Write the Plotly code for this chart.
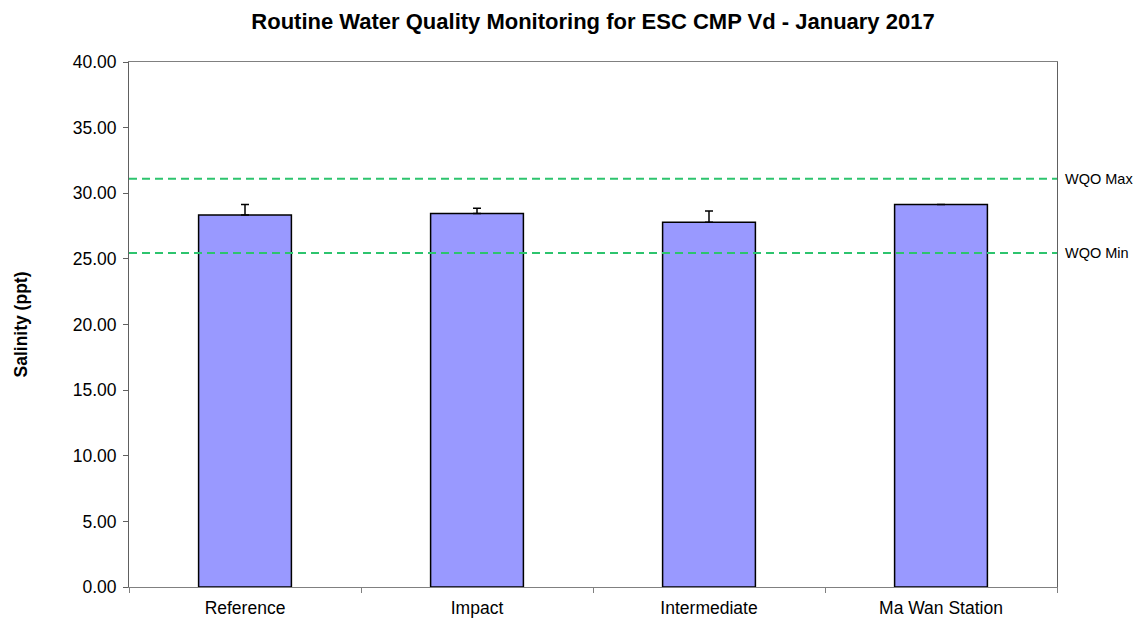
import plotly.graph_objects as go

categories = ["Reference", "Impact", "Intermediate", "Ma Wan Station"]
salinity = [28.35, 28.45, 27.8, 29.15]
error_plus = [0.8, 0.4, 0.85, float("nan")]
wqo_max = 31.1
wqo_min = 25.45
wqo_labels = ["WQO Max", "WQO Min"]

FONT = "Liberation Sans, Arial, sans-serif"

fig = go.Figure()
fig.add_trace(go.Bar(
    x=categories, y=salinity, width=0.4,
    marker=dict(color="#9999FF", line=dict(color="black", width=1.5)),
    error_y=dict(type="data", symmetric=False, array=error_plus,
                 arrayminus=[0] * len(error_plus),
                 color="black", thickness=1.5, width=4),
    showlegend=False,
))

green = "#2DC46E"
for val, lab in zip([wqo_max, wqo_min], wqo_labels):
    fig.add_shape(type="line", xref="paper", x0=0, x1=1, yref="y", y0=val, y1=val,
                  line=dict(color=green, width=2, dash="8px,5px"))
    fig.add_annotation(xref="paper", x=1, y=val, yref="y", text=lab, showarrow=False,
                       xanchor="left", xshift=6,
                       font=dict(size=14.5, color="black", family=FONT))

fig.update_layout(
    width=1142, height=623,
    margin=dict(l=117, r=93, t=54, b=44),
    paper_bgcolor="white", plot_bgcolor="white",
    font=dict(family=FONT, size=17.5, color="black"),
    title=dict(text="<b>Routine Water Quality Monitoring for ESC CMP Vd - January 2017</b>",
               x=0.5, xref="paper", xanchor="center", yref="container",
               y=0.979, yanchor="middle", font=dict(size=22)),
    bargap=0.6,
)
fig.update_xaxes(showline=True, linecolor="#808080", linewidth=1, mirror=True,
                 ticks="outside", tickson="boundaries", ticklen=5, tickcolor="#808080",
                 showgrid=False, tickfont=dict(size=17.5), ticklabelstandoff=5)
fig.update_yaxes(range=[0, 40], dtick=5, tickformat=".2f", showline=True,
                 linecolor="#606060", linewidth=1, mirror=True, ticks="outside",
                 ticklen=5, tickcolor="#606060", showgrid=False, zeroline=False,
                 tickfont=dict(size=17.5), ticklabelstandoff=3,
                 title=dict(text="<b>Salinity (ppt)</b>", font=dict(size=17.5), standoff=40))

fig.write_html("out.html")
